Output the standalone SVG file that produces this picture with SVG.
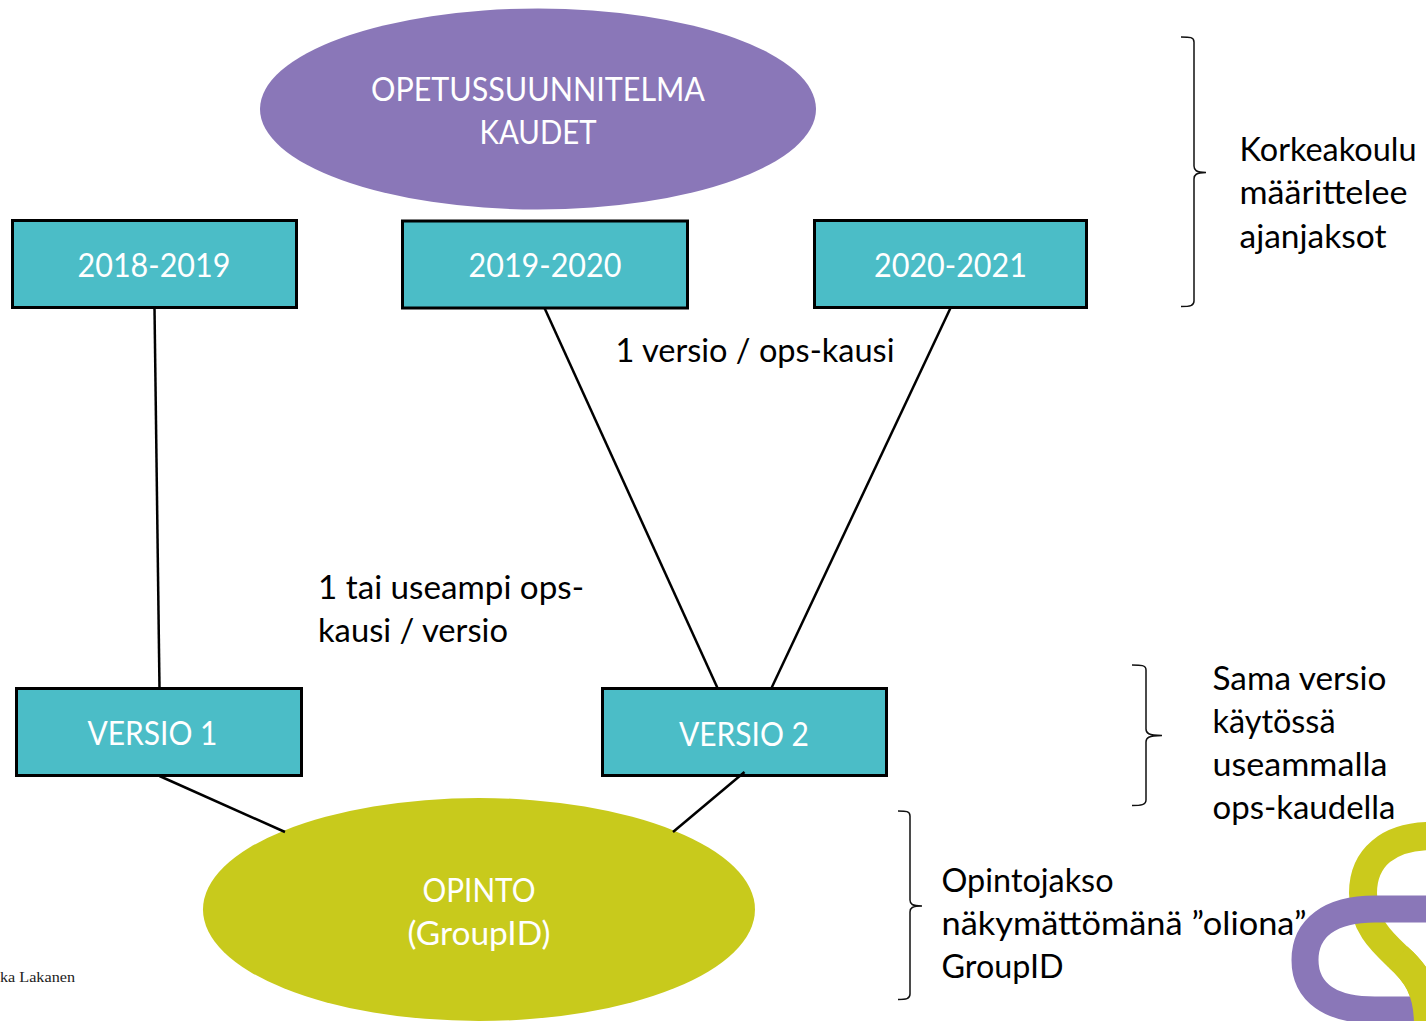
<svg xmlns="http://www.w3.org/2000/svg" width="1426" height="1021" viewBox="0 0 1426 1021">
<style>
text{font-family:"Lato","Carlito","Open Sans",sans-serif;font-size:33px;fill:#000}
.w{fill:#fff}
.box{fill:#4bbdc7;stroke:#000;stroke-width:3}
.c{fill:none;stroke:#000;stroke-width:2.5}
.br{fill:none;stroke:#111;stroke-width:1.5}
.y{fill:none;stroke:#cbca1c;stroke-width:28}
.p{fill:none;stroke:#8a77b8;stroke-width:27}
</style>
<rect width="1426" height="1021" fill="#fff"/>
<g id="logo">
<path class="y" d="M1432 836C1388 836 1363 858 1363 893C1363 925 1382 942 1398 957C1416 973 1428 990 1428 1025"/>
<path class="p" d="M1432 909H1375C1330 909 1305 928 1305 960C1305 992 1330 1010 1375 1010H1432"/>
<path class="y" d="M1398 957C1416 973 1428 990 1428 1025"/>
</g>
<g id="kaudet"><ellipse cx="538" cy="109" rx="278" ry="100.500" fill="#8a77b8"/>
<text class="w" x="538" y="100.500" text-anchor="middle" textLength="334" lengthAdjust="spacingAndGlyphs">OPETUSSUUNNITELMA</text>
<text class="w" x="538" y="143.500" text-anchor="middle" textLength="117" lengthAdjust="spacingAndGlyphs">KAUDET</text></g>
<g id="k2018"><rect class="box" x="12.500" y="220.500" width="284" height="87"/><text class="w" x="154" y="276.500" text-anchor="middle" textLength="153" lengthAdjust="spacingAndGlyphs">2018-2019</text></g>
<g id="k2019"><rect class="box" x="402.500" y="221" width="285" height="87"/><text class="w" x="545" y="277" text-anchor="middle" textLength="153" lengthAdjust="spacingAndGlyphs">2019-2020</text></g>
<g id="k2020"><rect class="box" x="814.500" y="220.500" width="272" height="87"/><text class="w" x="950.500" y="277" text-anchor="middle" textLength="153" lengthAdjust="spacingAndGlyphs">2020-2021</text></g>
<g id="versio1"><rect class="box" x="16.500" y="688.500" width="285" height="87"/><text class="w" x="152.500" y="744.500" text-anchor="middle" textLength="130" lengthAdjust="spacingAndGlyphs">VERSIO 1</text></g>
<g id="versio2"><rect class="box" x="602.500" y="688.500" width="284" height="87"/><text class="w" x="744" y="745.500" text-anchor="middle" textLength="130" lengthAdjust="spacingAndGlyphs">VERSIO 2</text></g>
<g id="opinto"><ellipse cx="479" cy="909.500" rx="276" ry="111.500" fill="#c8ca1c"/>
<text class="w" x="479" y="901.500" text-anchor="middle" textLength="113" lengthAdjust="spacingAndGlyphs">OPINTO</text>
<text class="w" x="479" y="944.500" text-anchor="middle" textLength="143" lengthAdjust="spacingAndGlyphs">(GroupID)</text></g>
<g id="connectors">
<path class="c" d="M154.500 308L159.500 688"/>
<path class="c" d="M544.500 308L717.500 688"/>
<path class="c" d="M950.500 308L771.500 688"/>
<path class="c" d="M159.500 776L285 832"/>
<path class="c" d="M744.500 772L673 832"/>
</g>
<g id="labels">
<text x="615.500" y="362" textLength="279" lengthAdjust="spacingAndGlyphs">1 versio / ops-kausi</text>
<text x="318" y="599" textLength="266" lengthAdjust="spacingAndGlyphs">1 tai useampi ops-</text>
<text x="318" y="642" textLength="190" lengthAdjust="spacingAndGlyphs">kausi / versio</text>
<text x="1239.500" y="161" textLength="177" lengthAdjust="spacingAndGlyphs">Korkeakoulu</text>
<text x="1239.500" y="204" textLength="168" lengthAdjust="spacingAndGlyphs">määrittelee</text>
<text x="1239.500" y="248" textLength="147" lengthAdjust="spacingAndGlyphs">ajanjaksot</text>
<text x="1212.500" y="690" textLength="174" lengthAdjust="spacingAndGlyphs">Sama versio</text>
<text x="1212.500" y="733" textLength="123" lengthAdjust="spacingAndGlyphs">käytössä</text>
<text x="1212.500" y="776" textLength="175" lengthAdjust="spacingAndGlyphs">useammalla</text>
<text x="1212.500" y="819" textLength="183" lengthAdjust="spacingAndGlyphs">ops-kaudella</text>
<text x="941.500" y="892" textLength="172" lengthAdjust="spacingAndGlyphs">Opintojakso</text>
<text x="941.500" y="935" textLength="365" lengthAdjust="spacingAndGlyphs">näkymättömänä ”oliona”</text>
<text x="941.500" y="978" textLength="122" lengthAdjust="spacingAndGlyphs">GroupID</text>
<text x="0" y="982" style="font-family:'Liberation Serif',serif;font-size:15.500px;fill:#222" textLength="75" lengthAdjust="spacingAndGlyphs">ka Lakanen</text>
</g>
<g id="braces">
<path class="br" d="M1181 37C1190 37 1194 37 1194 42V166C1194 170 1196 172.500 1206 172.500C1196 172.500 1194 175 1194 179V301C1194 306 1190 306.500 1181 306.500"/>
<path class="br" d="M1132 665C1141 665 1146 665 1146 670V729C1146 733 1148 735.500 1162 735.500C1148 735.500 1146 738 1146 742V800C1146 805 1141 805.500 1132 805.500"/>
<path class="br" d="M898 811C906 811 910 811 910 816V900C910 904 912 906 922 906C912 906 910 908 910 912V994C910 999 906 999.500 898 999.500"/>
</g>
</svg>
